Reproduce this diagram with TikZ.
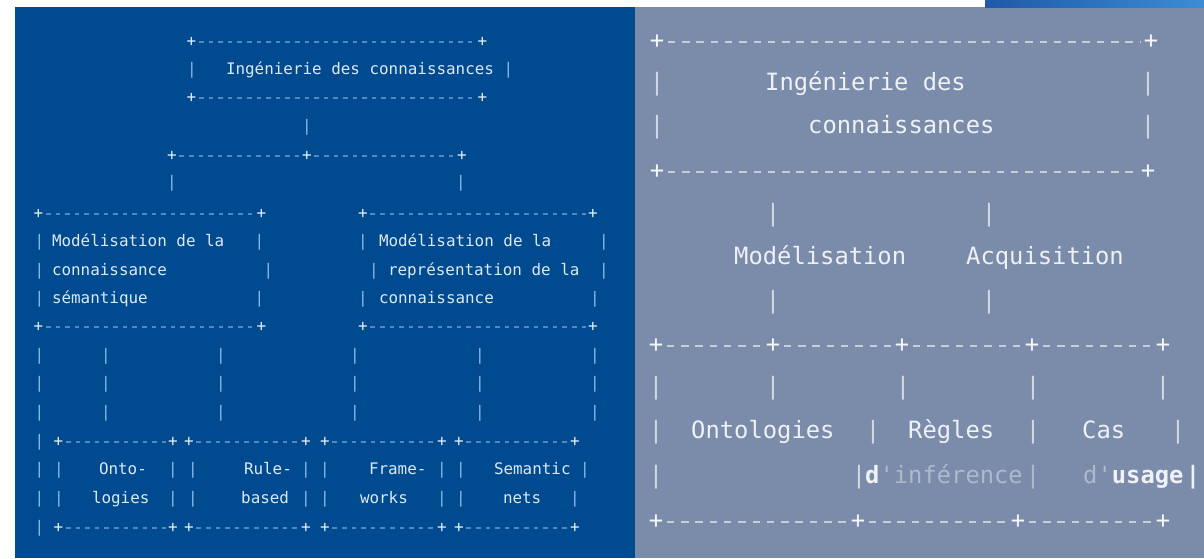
\documentclass[tikz,border=0pt]{standalone}
\usepackage{fontspec}
\newfontfamily\monofont{DejaVu Sans Mono}
\newcommand\lfnt{\monofont\fontsize{15.9}{19}\selectfont}
\newcommand\rfnt{\monofont\fontsize{23.8}{28}\selectfont}
\definecolor{lbg}{HTML}{004A8F}
\definecolor{rbg}{HTML}{7B8BAA}
\definecolor{ltxt}{HTML}{DDE8F4}
\definecolor{lbarc}{HTML}{8CB8E6}
\definecolor{lplusc}{HTML}{E6EEF8}
\definecolor{ldashc}{HTML}{5287C2}
\definecolor{rtxt}{HTML}{EEF1F6}
\definecolor{rbarc}{HTML}{D3D9E4}
\definecolor{rplusc}{HTML}{F4F6FA}
\definecolor{rdashc}{HTML}{C6CEDC}
\definecolor{rdim}{HTML}{AEB9CD}
\definecolor{topa}{HTML}{1E5AA8}
\definecolor{topb}{HTML}{3C8CD6}
\begin{document}
\begin{tikzpicture}[x=1pt,y=-1pt,
  lt/.style={font=\lfnt, text=ltxt, inner sep=0pt, anchor=base west, yshift=-4.3pt},
  lb/.style={font=\lfnt, text=lbarc, inner sep=0pt, anchor=base, yshift=-4.2pt},
  lp/.style={font=\lfnt, text=lplusc, inner sep=0pt, anchor=center},
  ld/.style={draw=ldashc, line width=1.1pt, dash pattern=on 4.6pt off 5pt, shorten <=2.5pt, shorten >=2.5pt},
  rt/.style={font=\rfnt, text=rtxt, inner sep=0pt, anchor=base west, yshift=-6.5pt},
  rb/.style={font=\rfnt, text=rbarc, inner sep=0pt, anchor=base, yshift=-6.2pt},
  rp/.style={font=\rfnt, text=rplusc, inner sep=0pt, anchor=center},
  rd/.style={draw=rdashc, line width=1.6pt, dash pattern=on 7.5pt off 6.8pt, shorten <=3.4pt, shorten >=3.4pt}]
\useasboundingbox (0,0) rectangle (1204,558);
% backgrounds
\fill[white] (0,0) rectangle (1204,558);
\fill[lbg] (15,7) rectangle (635,558);
\fill[rbg] (635,7) rectangle (1204,558);
\shade[left color=topa, right color=topb] (985,0) rectangle (1204,7);

% ===== LEFT PANEL =====
\node[lp] (p0a) at (191.5,42) {+};
\node[lp] (p0b) at (482.5,42) {+};
\draw[ld] (p0a) -- (p0b);
\node[lb] (b1a) at (192,70) {|};
\node[lt] (t1) at (225.8,70) {Ingénierie des connaissances};
\node[lb] (b1b) at (508.5,70) {|};
\node[lp] (p2a) at (191.5,98) {+};
\node[lp] (p2b) at (482.5,98) {+};
\draw[ld] (p2a) -- (p2b);
\node[lb] (b3) at (307,127) {|};
\node[lp] (p4a) at (172,156) {+};
\node[lp] (p4b) at (307,156) {+};
\node[lp] (p4c) at (462,156) {+};
\draw[ld] (p4a) -- (p4b);
\draw[ld] (p4b) -- (p4c);
\node[lb] (b5a) at (172,183) {|};
\node[lb] (b5b) at (461,183) {|};
% boxes row 6-10
\node[lp] (p6a) at (38.5,214) {+};
\node[lp] (p6b) at (261.5,214) {+};
\node[lp] (p6c) at (363,214) {+};
\node[lp] (p6d) at (593,214) {+};
\draw[ld] (p6a) -- (p6b);
\draw[ld] (p6c) -- (p6d);
\node[lb] (b7a) at (39.5,242) {|};
\node[lt] (t7a) at (51.8,242) {Modélisation de la};
\node[lb] (b7b) at (259.5,242) {|};
\node[lb] (b7c) at (363,242) {|};
\node[lt] (t7b) at (378.8,242) {Modélisation de la};
\node[lb] (b7d) at (604,242) {|};
\node[lb] (b8a) at (39.5,271) {|};
\node[lt] (t8a) at (51.8,271) {connaissance};
\node[lb] (b8b) at (268.5,271) {|};
\node[lb] (b8c) at (374,271) {|};
\node[lt] (t8b) at (387.8,271) {représentation de la};
\node[lb] (b8d) at (604,271) {|};
\node[lb] (b9a) at (39.5,299) {|};
\node[lt] (t9a) at (51.8,299) {sémantique};
\node[lb] (b9b) at (259.5,299) {|};
\node[lb] (b9c) at (363,299) {|};
\node[lt] (t9b) at (378.8,299) {connaissance};
\node[lb] (b9d) at (595,299) {|};
\node[lp] (p10a) at (38.5,327) {+};
\node[lp] (p10b) at (261.5,327) {+};
\node[lp] (p10c) at (363,327) {+};
\node[lp] (p10d) at (593,327) {+};
\draw[ld] (p10a) -- (p10b);
\draw[ld] (p10c) -- (p10d);
% vertical bars rows 11-13
\foreach \yy [count=\r] in {356,384,413}{
  \foreach \xx [count=\c] in {39.5,106,221,355,480,595}{
    \node[lb] (v\r-\c) at (\xx,\yy) {|};
  }
}
% bottom boxes
\node[lb] (b14) at (39.5,442) {|};
\node[lb] (b17) at (39.5,528) {|};
\foreach \yy/\rr in {442/t,528/u}{
  \node[lp] (\rr1) at (58.5,\yy) {+};
  \node[lp] (\rr2) at (173,\yy) {+};
  \node[lp] (\rr3) at (189,\yy) {+};
  \node[lp] (\rr4) at (306,\yy) {+};
  \node[lp] (\rr5) at (325,\yy) {+};
  \node[lp] (\rr6) at (442,\yy) {+};
  \node[lp] (\rr7) at (459,\yy) {+};
  \node[lp] (\rr8) at (575,\yy) {+};
  \draw[ld] (\rr1) -- (\rr2);
  \draw[ld] (\rr3) -- (\rr4);
  \draw[ld] (\rr5) -- (\rr6);
  \draw[ld] (\rr7) -- (\rr8);
}
\foreach \xx [count=\c] in {39.5,59,173,193,306,325,442,461,585}{
  \node[lb] (w15-\c) at (\xx,470) {|};
}
\node[lt] (t15a) at (98.8,470) {Onto-};
\node[lt] (t15b) at (243.8,470) {Rule-};
\node[lt] (t15c) at (368.8,470) {Frame-};
\node[lt] (t15d) at (493.8,470) {Semantic};
\foreach \xx [count=\c] in {39.5,59,173,193,306,325,442,461,575}{
  \node[lb] (w16-\c) at (\xx,499) {|};
}
\node[lt] (t16a) at (91.8,499) {logies};
\node[lt] (t16b) at (241,499) {based};
\node[lt] (t16c) at (359.8,499) {works};
\node[lt] (t16d) at (502.8,499) {nets};

% ===== RIGHT PANEL =====
\node[rp] (qa1) at (657,42) {+};
\node[rp] (qa2) at (1151,42) {+};
\draw[rd] (qa1) -- (qa2);
\node[rb] (cb1) at (657,84) {|};
\node[rt] (rt1) at (765,84) {Ingénierie des};
\node[rb] (cb2) at (1148,84) {|};
\node[rb] (cc1) at (657,127) {|};
\node[rt] (rt2) at (808,127) {connaissances};
\node[rb] (cc2) at (1148,127) {|};
\node[rp] (qd1) at (657,172) {+};
\node[rp] (qd2) at (1148,172) {+};
\draw[rd] (qd1) -- (qd2);
\node[rb] (ce1) at (773,215) {|};
\node[rb] (ce2) at (989,215) {|};
\node[rt] (rt3) at (734,258) {Modélisation};
\node[rt] (rt4) at (966,258) {Acquisition};
\node[rb] (cg1) at (773,302) {|};
\node[rb] (cg2) at (989,302) {|};
\node[rp] (qh1) at (656,346) {+};
\node[rp] (qh2) at (773,346) {+};
\node[rp] (qh3) at (902,346) {+};
\node[rp] (qh4) at (1032,346) {+};
\node[rp] (qh5) at (1163,346) {+};
\draw[rd] (qh1) -- (qh2);
\draw[rd] (qh2) -- (qh3);
\draw[rd] (qh3) -- (qh4);
\draw[rd] (qh4) -- (qh5);
\foreach \xx [count=\c] in {656,773,903,1033,1163}{
  \node[rb] (ci\c) at (\xx,388) {|};
}
\node[rb] (cj1) at (656,432) {|};
\node[rt] (rt5) at (691,432) {Ontologies};
\node[rb] (cj2) at (873,432) {|};
\node[rt] (rt6) at (908,432) {Règles};
\node[rb] (cj3) at (1033,432) {|};
\node[rt] (rt7) at (1082,432) {Cas};
\node[rb] (cj4) at (1178,432) {|};
\node[rb] (ck1) at (656,477) {|};
\node[rb] (ck2) at (859,477) {|};
\node[rt] (rt8) at (865,477) {\textbf{d}\textcolor{rdim}{'inférence}};
\node[rb, text=rdim] (ck3) at (1033,477) {|};
\node[rt] (rt9) at (1083,477) {\textcolor{rdim}{d'}\textbf{usage}};
\node[rb, text=rtxt, font=\rfnt\bfseries] (ck4) at (1193,477) {|};
\node[rp] (ql1) at (656,522) {+};
\node[rp] (ql2) at (858,522) {+};
\node[rp] (ql3) at (1018,522) {+};
\node[rp] (ql4) at (1163,522) {+};
\draw[rd] (ql1) -- (ql2);
\draw[rd] (ql2) -- (ql3);
\draw[rd] (ql3) -- (ql4);
\end{tikzpicture}
\end{document}
